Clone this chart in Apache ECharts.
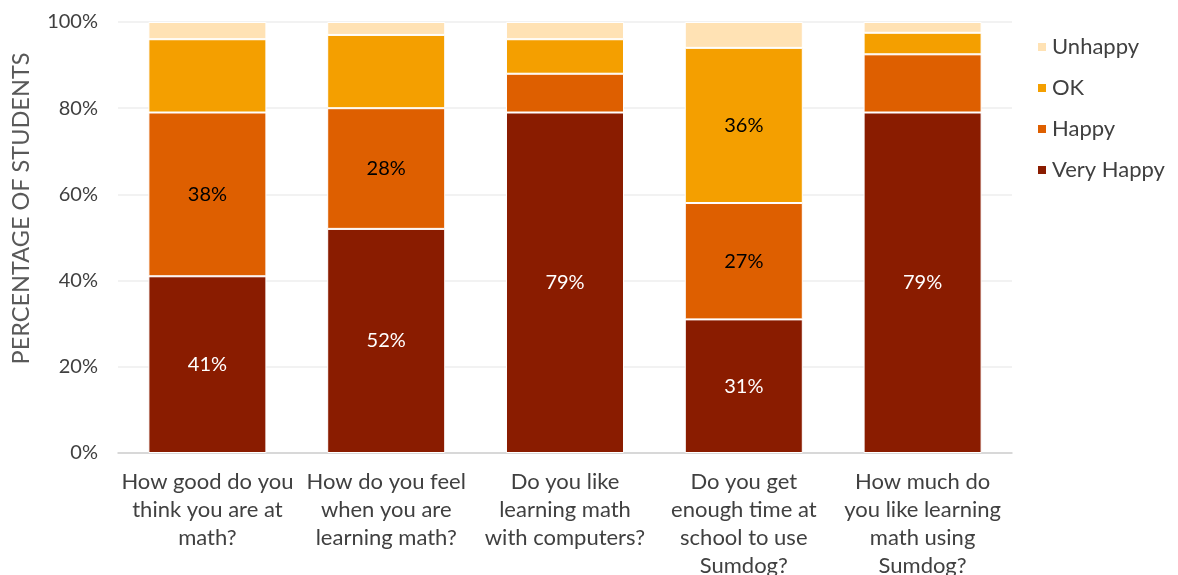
<!DOCTYPE html>
<html><head><meta charset="utf-8">
<script src="https://cdn.jsdelivr.net/npm/echarts@6/dist/echarts.min.js"></script>
<style>html,body{margin:0;padding:0;background:#fff}#c{width:1178px;height:575px}</style>
</head><body><div id="c"></div>
<script>
const categories = [
  "How good do you\nthink you are at\nmath?",
  "How do you feel\nwhen you are\nlearning math?",
  "Do you like\nlearning math\nwith computers?",
  "Do you get\nenough time at\nschool to use\nSumdog?",
  "How much do\nyou like learning\nmath using\nSumdog?"
];
const veryHappy = [41, 52, 79, 31, 79];
const happy = [38, 28, 9, 27, 13.5];
const ok = [17, 17, 8, 36, 5];
const unhappy = [4, 3, 4, 6, 2.5];
const yTicks = [0, 20, 40, 60, 80, 100];

const FONT = 'Lato';
function seg(name, data, color, labelColor) {
  return {
    name, type: 'bar', stack: 'all', data,
    barCategoryGap: '34%',
    itemStyle: { color, borderColor: '#fff', borderWidth: 1 },
    label: {
      show: true, position: 'inside', color: labelColor,
      fontFamily: FONT, fontSize: 20,
      formatter: p => p.value >= 20 ? Math.round(p.value) + '%' : ''
    }
  };
}
const chart = echarts.init(document.getElementById('c'));
chart.setOption({
  animation: false,
  textStyle: { fontFamily: FONT },
  grid: { left: 118, right: 166, top: 22, bottom: 122, containLabel: false, outerBoundsMode: 'none' },
  legend: {
    orient: 'vertical', left: 1031, top: 31,
    data: ['Unhappy', 'OK', 'Happy', 'Very Happy'],
    icon: 'rect', itemWidth: 10, itemHeight: 10, itemGap: 19,
    textStyle: { fontFamily: FONT, fontSize: 22, color: '#404040', lineHeight: 22 }
  },
  xAxis: {
    type: 'category', data: categories,
    axisLine: { lineStyle: { color: '#d0d0d0', width: 1.5 } },
    axisTick: { show: false },
    axisLabel: { fontFamily: FONT, fontSize: 22, color: '#404040', lineHeight: 28, margin: 15, interval: 0 }
  },
  yAxis: {
    type: 'value', min: yTicks[0], max: yTicks[yTicks.length - 1], interval: 20,
    name: 'PERCENTAGE OF STUDENTS', nameLocation: 'middle', nameGap: 85,
    nameTextStyle: { fontFamily: FONT, fontSize: 23.5, color: '#595959', padding: [0, 0, 0, 58] },
    axisLine: { show: false }, axisTick: { show: false },
    axisLabel: { fontFamily: FONT, fontSize: 20, color: '#404040', margin: 20, formatter: v => v + '%' },
    splitLine: { lineStyle: { color: '#eeeeee', width: 1.5 } }
  },
  series: [
    seg('Very Happy', veryHappy, '#8a1c00', '#ffffff'),
    seg('Happy', happy, '#de5f00', '#000000'),
    seg('OK', ok, '#f49f00', '#000000'),
    seg('Unhappy', unhappy, '#ffe2b4', '#000000')
  ]
});
</script></body></html>
